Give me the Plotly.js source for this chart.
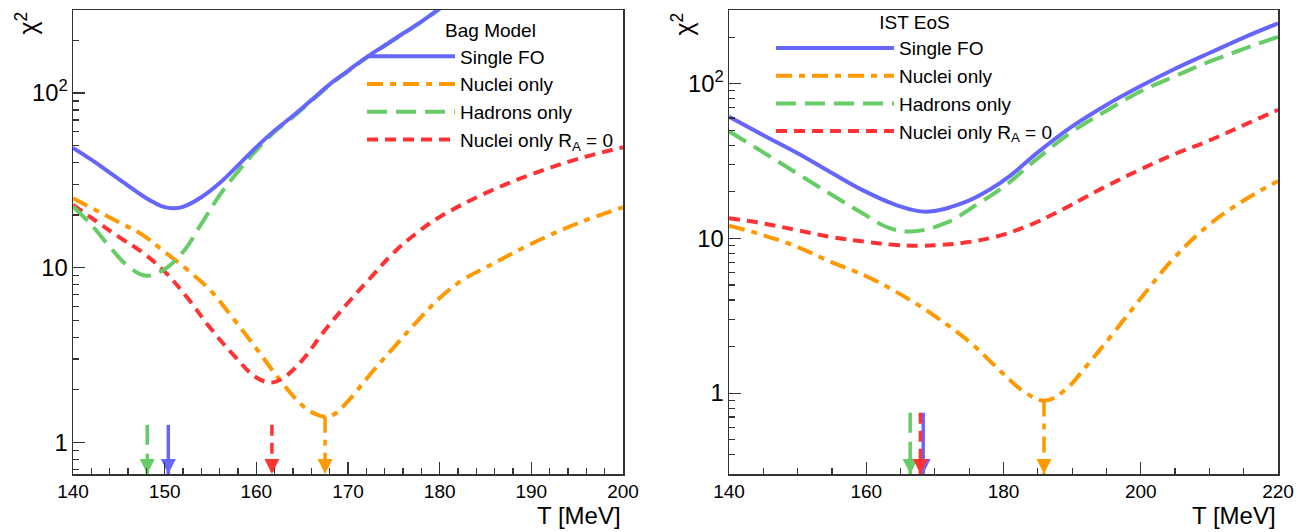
<!DOCTYPE html>
<html>
<head>
<meta charset="utf-8">
<script src="https://cdn.plot.ly/plotly-3.0.1.min.js"></script>
<style>
  html, body { margin: 0; padding: 0; background: #fff; }
  #chart { width: 1316px; height: 532px; }
</style>
</head>
<body>
<div id="chart"></div>
<script>
// ---------- Bag Model (left panel) ----------
const bagSingleT   = [140,142,144,146,148,150,151,152,154,156,158,160,162,164,166,168,170,172,174,176,178,180];
const bagSingle    = [48.5,41.5,35,29.5,25,22.2,21.9,22.3,25.3,30.5,38.5,49,61,74,91,112,134,160,187,219,256,305];
const bagHadronsT  = [140,142,144,146,148,150,152,154,156,158,160,162,164,166,168,170,172,174,176,178,180];
const bagHadrons   = [22.4,17.6,13.2,10.2,9.0,9.8,12.3,17.8,26,35.5,47,60,73,90,111,133,159,186,218,255,303];
const bagNucleiT   = [140,142.5,145,147.5,150,152.5,155,157.5,160,162.5,165,166.5,167.5,168.5,170,172.5,175,177.5,180,182.5,185,190,195,200];
const bagNuclei    = [25,21.3,18.2,15.5,12.3,9.7,7.4,5.1,3.45,2.3,1.63,1.45,1.40,1.45,1.72,2.48,3.5,4.9,6.7,8.5,10,13.7,17.9,22.2];
const bagRA0T      = [140,142.5,145,147.5,150,152.5,155,157.5,160,161.7,163,165,167.5,170,172.5,175,177.5,180,185,190,195,200];
const bagRA0       = [22.9,18.5,15.0,12.3,9.5,6.7,4.5,3.17,2.35,2.2,2.35,2.95,4.4,6.3,8.8,12.2,15.8,19.5,26.7,34.2,41.8,48.9];
// minima arrows: order Single FO, Nuclei only, Hadrons only, Nuclei only R_A=0
const bagArrowT    = [150.4, 167.5, 148.1, 161.7];
const bagArrowTop  = [1.26, 1.40, 1.26, 1.26];

// ---------- IST EoS (right panel) ----------
const istSingleT   = [140,145,150,155,159.4,164.3,168.7,174,177.9,181,185,190,195,200,205,210,215,220];
const istSingle    = [61.3,46.5,35.5,26.5,20.6,16.5,14.9,16.9,20.6,25.5,36,53,73,96.6,125,158,199,246];
const istHadronsT  = [140,145,150,154.6,159.4,163.3,166.7,171.6,176.4,180,185,190,195,200,205,210,215,220];
const istHadrons   = [49.3,36,26.2,19.6,14.6,11.7,11.1,12.6,16.9,21.5,33,49,67,89.5,112,139,168,201];
const istNucleiT   = [140,145,150,155,160,165,170,175,180,183,186,189,192,196,200,205,210,215,220];
const istNuclei    = [12.1,10.5,8.8,7.0,5.7,4.35,3.15,2.15,1.33,1.02,0.895,1.05,1.48,2.44,4.1,7.6,12.3,17.6,23.5];
const istRA0T      = [140,145,150,155,160,164,167.7,171,174,179,184,188,190,195,200,205,210,215,220];
const istRA0       = [13.5,12.5,11.3,10.2,9.5,9.1,8.96,9.1,9.35,10.3,12.3,14.9,16.6,21.8,28,35.2,43,54,67.8];
const istArrowT    = [168.3, 185.9, 166.4, 167.9];
const istArrowTop  = [0.746, 0.895, 0.746, 0.746];

const seriesNames = ['Single FO', 'Nuclei only', 'Hadrons only', 'Nuclei only R<sub>A</sub> = 0'];
const colors = ['#6666ff', '#ff9900', '#66cc66', '#ff3333'];
const dashes = ['solid', '16px,7px,6px,7px', '20px,9px', '11px,7px'];

const yRangeBag = [-0.181, 2.475];
const yRangeIst = [-0.523, 2.477];

function curve(x, y, i, xa, ya, leg) {
  return {
    x: x, y: y, xaxis: xa, yaxis: ya, type: 'scatter', mode: 'lines',
    name: seriesNames[i], legend: leg, legendrank: i + 1,
    line: {color: colors[i], width: 4, dash: dashes[i], shape: 'spline', smoothing: 1.1},
    hoverinfo: 'skip'
  };
}
function arrow(T, top, i, xa, ya, yr) {
  const bottom = Math.pow(10, yr[0]);
  return [{
    x: [T, T], y: [top, bottom], xaxis: xa, yaxis: ya, type: 'scatter', mode: 'lines',
    showlegend: false, hoverinfo: 'skip',
    line: {color: colors[i], width: 3.5, dash: dashes[i]}
  }, {
    x: [T], y: [bottom], xaxis: xa, yaxis: ya, type: 'scatter', mode: 'markers',
    showlegend: false, hoverinfo: 'skip', cliponaxis: false,
    marker: {symbol: 'arrow-down', size: 15, color: colors[i], line: {width: 0}}
  }];
}

const traces = [];
// draw order: nuclei, RA0, hadrons, single (legend order via legendrank)
traces.push(curve(bagNucleiT, bagNuclei, 1, 'x', 'y', 'legend'));
traces.push(curve(bagRA0T, bagRA0, 3, 'x', 'y', 'legend'));
traces.push(curve(bagHadronsT, bagHadrons, 2, 'x', 'y', 'legend'));
traces.push(curve(bagSingleT, bagSingle, 0, 'x', 'y', 'legend'));
traces.push(curve(istNucleiT, istNuclei, 1, 'x2', 'y2', 'legend2'));
traces.push(curve(istRA0T, istRA0, 3, 'x2', 'y2', 'legend2'));
traces.push(curve(istHadronsT, istHadrons, 2, 'x2', 'y2', 'legend2'));
traces.push(curve(istSingleT, istSingle, 0, 'x2', 'y2', 'legend2'));
[0, 2, 1, 3].forEach(i => {
  traces.push(...arrow(bagArrowT[i], bagArrowTop[i], i, 'x', 'y', yRangeBag));
  traces.push(...arrow(istArrowT[i], istArrowTop[i], i, 'x2', 'y2', yRangeIst));
});

const FONT = 'Liberation Sans, Arial, sans-serif';
const axisCommon = {
  ticks: 'inside', ticklen: 12, tickwidth: 1.2, tickcolor: '#333',
  showline: true, linecolor: '#333', linewidth: 1.5, mirror: true,
  showgrid: false, zeroline: false, automargin: false,
  tickfont: {family: FONT, size: 19, color: '#000'}
};

const layout = {
  width: 1316, height: 532,
  margin: {l: 0, r: 0, t: 10, b: 58},
  paper_bgcolor: '#fff', plot_bgcolor: '#fff',
  font: {family: FONT, color: '#000'},
  xaxis: Object.assign({}, axisCommon, {
    domain: [73/1316, 623/1316], range: [140, 200], tick0: 140, dtick: 10, anchor: 'y',
    minor: {ticks: 'inside', ticklen: 6, dtick: 2, tickcolor: '#333', tickwidth: 1.2, showgrid: false}
  }),
  yaxis: Object.assign({}, axisCommon, {
    type: 'log', range: yRangeBag, dtick: 1, exponentformat: 'power', anchor: 'x',
    minor: {ticks: 'inside', ticklen: 6, dtick: 'D1', tickcolor: '#333', tickwidth: 1.2, showgrid: false}
  }),
  xaxis2: Object.assign({}, axisCommon, {
    domain: [729/1316, 1278/1316], range: [140, 220], tick0: 140, dtick: 20, anchor: 'y2',
    minor: {ticks: 'inside', ticklen: 6, dtick: 5, tickcolor: '#333', tickwidth: 1.2, showgrid: false}
  }),
  yaxis2: Object.assign({}, axisCommon, {
    type: 'log', range: yRangeIst, dtick: 1, exponentformat: 'power', anchor: 'x2',
    minor: {ticks: 'inside', ticklen: 6, dtick: 'D1', tickcolor: '#333', tickwidth: 1.2, showgrid: false}
  }),
  legend: {
    x: 362/1316, y: 0.994, xanchor: 'left', yanchor: 'top',
    bgcolor: 'rgba(0,0,0,0)', borderwidth: 0, itemwidth: 88,
    font: {family: FONT, size: 19, color: '#000'},
    title: {text: 'Bag Model', side: 'top center', font: {family: FONT, size: 19, color: '#000'}},
    itemclick: false, itemdoubleclick: false
  },
  legend2: {
    x: 771/1316, y: 1.012, xanchor: 'left', yanchor: 'top',
    bgcolor: 'rgba(0,0,0,0)', borderwidth: 0, itemwidth: 118,
    font: {family: FONT, size: 19, color: '#000'},
    title: {text: 'IST EoS', side: 'top center', font: {family: FONT, size: 19, color: '#000'}},
    itemclick: false, itemdoubleclick: false
  },
  annotations: [
    {text: 'χ<sup>2</sup>', xref: 'paper', yref: 'paper', x: 26/1316, y: 1.0, xanchor: 'center', yanchor: 'top',
     textangle: -90, showarrow: false, font: {family: FONT, size: 25, color: '#000'}},
    {text: 'χ<sup>2</sup>', xref: 'paper', yref: 'paper', x: 682/1316, y: 1.0, xanchor: 'center', yanchor: 'top',
     textangle: -90, showarrow: false, font: {family: FONT, size: 25, color: '#000'}},
    {text: 'T [MeV]', xref: 'x domain', yref: 'paper', x: 1, y: -0.0905, xanchor: 'right', yanchor: 'middle',
     showarrow: false, font: {family: FONT, size: 24, color: '#000'}},
    {text: 'T [MeV]', xref: 'x2 domain', yref: 'paper', x: 1, y: -0.0905, xanchor: 'right', yanchor: 'middle',
     showarrow: false, font: {family: FONT, size: 24, color: '#000'}}
  ]
};

Plotly.newPlot('chart', traces, layout, {staticPlot: true, displayModeBar: false});
</script>
</body>
</html>
